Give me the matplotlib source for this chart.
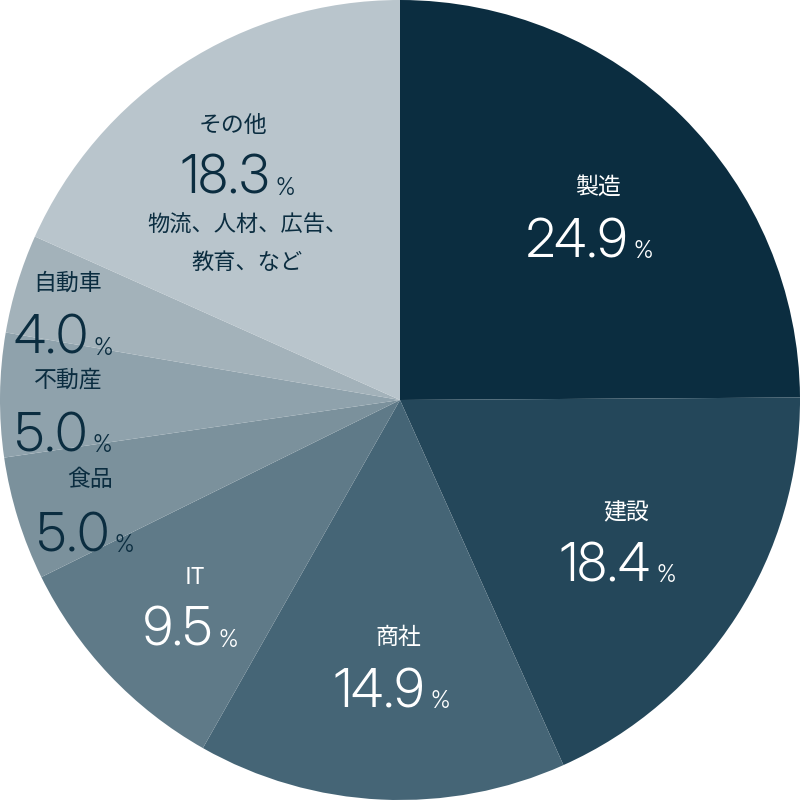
import matplotlib
matplotlib.use("Agg")
import matplotlib.pyplot as plt

categories = ["製造", "建設", "商社", "IT", "食品", "不動産", "自動車", "その他"]
shares = [24.9, 18.4, 14.9, 9.5, 5.0, 5.0, 4.0, 18.3]
colors = ["#0b2d40", "#24475a", "#456576", "#5f7a88",
          "#7b919c", "#8fa2ac", "#a3b2ba", "#b9c5cc"]
text_colors = ["white", "white", "white", "white",
               "#0b2d40", "#0b2d40", "#0b2d40", "#0b2d40"]
other_note = ["物流、人材、広告、", "教育、など"]

# label / number positions in pixels (x, y from top)
label_px = [(598, 187), (626, 512), (398, 637), (195, 577),
            (90, 480), (68, 380), (68, 283), (233, 125)]
number_px = [(577, 243), (605, 567), (379, 693), (178, 632),
             (73, 537), (51, 437), (51, 340), (225, 180)]

jp = ["Noto Sans CJK JP", "DejaVu Sans"]
num_font = ["Inter Display", "Inter", "DejaVu Sans"]

fig = plt.figure(figsize=(8, 8), dpi=100)
ax = fig.add_axes([0, 0, 1, 1])
ax.pie(shares, colors=colors, startangle=90, counterclock=False,
       radius=1.0, wedgeprops=dict(linewidth=0))
ax.set_xlim(-1, 1)
ax.set_ylim(-1, 1)
ax.set_aspect("equal")
ax.axis("off")


def to_data(px, py):
    return (px - 400) / 400, (400 - py) / 400


for i, cat in enumerate(categories):
    tc = text_colors[i]
    lx, ly = to_data(*label_px[i])
    ax.text(lx, ly, cat, ha="center", va="center", fontsize=16.5,
            family=jp, color=tc)
    nx, ny = to_data(*number_px[i])
    t = ax.text(nx, ny, f"{shares[i]:.1f}", ha="center", va="center",
                fontsize=38, family=num_font, fontweight=300, color=tc)
    ax.annotate("%", xy=(1, 0.1), xycoords=t, xytext=(4, 0),
                textcoords="offset points", ha="left", va="bottom",
                fontsize=17, family=num_font, fontweight=300, color=tc)

for j, line in enumerate(other_note):
    x, y = to_data(247, 225 + j * 37)
    ax.text(x, y, line, ha="center", va="center", fontsize=16,
            family=jp, color=text_colors[-1])

fig.savefig("out.png", dpi=100, facecolor="white")
